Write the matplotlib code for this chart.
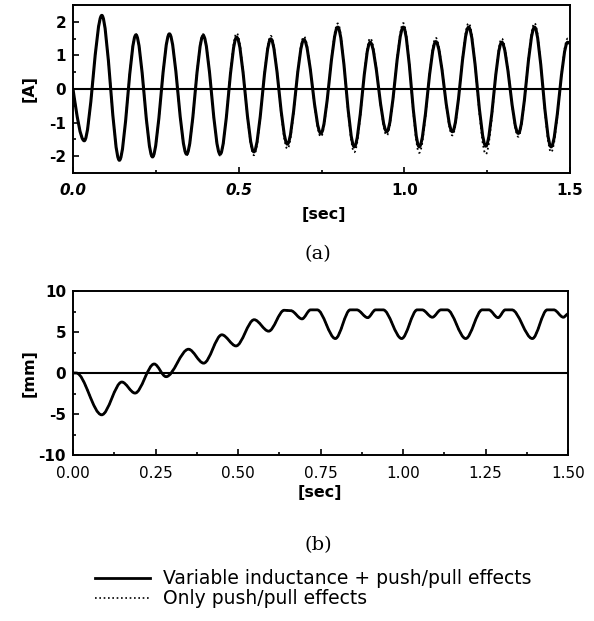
import matplotlib
matplotlib.use("Agg")
import matplotlib.pyplot as plt
from matplotlib.path import Path
from matplotlib.patches import PathPatch
from matplotlib.lines import Line2D
from matplotlib.ticker import MultipleLocator, FixedLocator

# ---------------- data ----------------
# (a) coil current [A]: successive extrema of the waveform
t_current = [0.0, 0.034, 0.087, 0.140, 0.190, 0.240, 0.291, 0.343, 0.393, 0.444,
             0.494, 0.546, 0.597, 0.647, 0.697, 0.748, 0.799, 0.849, 0.897, 0.947,
             0.997, 1.045, 1.095, 1.145, 1.194, 1.246, 1.294, 1.344, 1.393, 1.443,
             1.493, 1.500]
i_variable = [0.0, -1.54, 2.19, -2.12, 1.61, -2.02, 1.64, -1.94, 1.59, -1.94,
              1.54, -1.87, 1.49, -1.64, 1.47, -1.32, 1.84, -1.72, 1.39, -1.27,
              1.84, -1.72, 1.41, -1.27, 1.84, -1.70, 1.39, -1.32, 1.84, -1.72,
              1.39, 1.36]
i_pushpull = [0.0, -1.54, 2.19, -2.12, 1.63, -2.04, 1.66, -1.97, 1.63, -1.98,
              1.66, -1.97, 1.58, -1.78, 1.56, -1.42, 1.95, -1.88, 1.51, -1.38,
              1.96, -1.90, 1.52, -1.38, 1.96, -1.94, 1.50, -1.42, 1.96, -1.88,
              1.50, 1.46]

# (b) displacement [mm]: successive turning points of the response
t_disp = [0.0, 0.010, 0.087, 0.148, 0.188, 0.246, 0.282, 0.350, 0.396, 0.451,
          0.494, 0.549, 0.593, 0.640, 0.660, 0.694, 0.720, 0.740, 0.795, 0.840,
          0.860, 0.893, 0.917, 0.940, 0.996, 1.043, 1.058, 1.089, 1.115, 1.134,
          1.190, 1.240, 1.260, 1.288, 1.310, 1.330, 1.392, 1.437, 1.457, 1.486,
          1.500]
x_variable = [0.0, 0.0, -5.1, -1.1, -2.45, 1.1, -0.45, 2.9, 1.2, 4.66,
              3.3, 6.5, 5.1, 7.65, 7.6, 6.6, 7.7, 7.7, 4.2, 7.7,
              7.7, 6.75, 7.7, 7.7, 4.2, 7.7, 7.7, 6.8, 7.7, 7.7,
              4.2, 7.7, 7.7, 6.75, 7.7, 7.7, 4.2, 7.7, 7.7, 6.8,
              7.2]
x_pushpull = list(x_variable)

legend_labels = ["Variable inductance + push/pull effects", "Only push/pull effects"]
top_xticks = [0.0, 0.5, 1.0, 1.5]
top_xticklabels = ["0.0", "0.5", "1.0", "1.5"]
top_yticks = [-2, -1, 0, 1, 2]
bot_xticks = [0.0, 0.25, 0.5, 0.75, 1.0, 1.25, 1.5]
bot_xticklabels = ["0.00", "0.25", "0.50", "0.75", "1.00", "1.25", "1.50"]
bot_yticks = [-10, -5, 0, 5, 10]

# ---------------- drawing ----------------
SANS = ["DejaVu Sans"]
SERIF = ["DejaVu Serif"]
plt.rcParams["font.family"] = SANS

W, H = 594, 621
fig = plt.figure(figsize=(W / 100, H / 100), dpi=100)


def ax_rect(l, t, r, b):
    return [l / W, 1 - b / H, (r - l) / W, (b - t) / H]


def smooth_path(ts, vs, steep_start=False):
    verts = [(ts[0], vs[0])]
    codes = [Path.MOVETO]
    for k in range(len(ts) - 1):
        t0, v0, t1, v1 = ts[k], vs[k], ts[k + 1], vs[k + 1]
        dt = t1 - t0
        c1 = (t0 + dt / 3, v0 + (v1 - v0) * 0.5) if (steep_start and k == 0) else (t0 + dt / 3, v0)
        verts += [c1, (t1 - dt / 3, v1), (t1, v1)]
        codes += [Path.CURVE4] * 3
    return Path(verts, codes)


def style_axes(ax):
    for s in ax.spines.values():
        s.set_linewidth(1.4)
    ax.tick_params(which="both", direction="in", top=False, right=False,
                   width=1.2, labelsize=11, pad=5)
    ax.tick_params(which="major", length=4)
    ax.tick_params(which="minor", length=2.5)
    ax.axhline(0, color="black", lw=1.5, zorder=1)


# top panel
ax1 = fig.add_axes(ax_rect(73, 5, 570, 173))
ax1.add_patch(PathPatch(smooth_path(t_current, i_pushpull, True), fill=False,
                        ec="black", lw=1.3, ls=(0, (1, 1.6)), zorder=2))
ax1.add_patch(PathPatch(smooth_path(t_current, i_variable, True), fill=False,
                        ec="black", lw=2.2, zorder=3))
ax1.set_xlim(0, 1.5)
ax1.set_ylim(-2.5, 2.5)
ax1.xaxis.set_major_locator(FixedLocator(top_xticks))
ax1.set_xticklabels(top_xticklabels, fontweight="bold")
for lab in ax1.get_xticklabels()[:2]:
    lab.set_fontstyle("italic")
ax1.xaxis.set_minor_locator(MultipleLocator(0.25))
ax1.yaxis.set_major_locator(FixedLocator(top_yticks))
ax1.set_yticklabels([str(v) for v in top_yticks], fontweight="bold")
ax1.yaxis.set_minor_locator(MultipleLocator(0.5))
style_axes(ax1)
ax1.tick_params(axis="x", pad=7)
ax1.set_ylabel("[A]", fontsize=11.5, fontweight="bold")
ax1.yaxis.set_label_coords((37 - 73) / 497, 0.5)

# bottom panel
ax2 = fig.add_axes(ax_rect(73, 291, 568, 455))
ax2.add_patch(PathPatch(smooth_path(t_disp, x_pushpull), fill=False,
                        ec="black", lw=1.3, ls=(0, (1, 1.6)), zorder=2))
ax2.add_patch(PathPatch(smooth_path(t_disp, x_variable), fill=False,
                        ec="black", lw=2.0, zorder=3))
ax2.set_xlim(0, 1.5)
ax2.set_ylim(-10, 10)
ax2.xaxis.set_major_locator(FixedLocator(bot_xticks))
ax2.set_xticklabels(bot_xticklabels)
ax2.xaxis.set_minor_locator(MultipleLocator(0.125))
ax2.yaxis.set_major_locator(FixedLocator(bot_yticks))
ax2.set_yticklabels([str(v) for v in bot_yticks], fontweight="bold")
ax2.yaxis.set_minor_locator(MultipleLocator(2.5))
style_axes(ax2)
ax2.tick_params(axis="x", pad=8)
ax2.set_ylabel("[mm]", fontsize=11.5, fontweight="bold")
ax2.yaxis.set_label_coords((37 - 73) / 495, 0.5)


def fx(x):
    return x / W


def fy(y):
    return 1 - y / H


fig.text(fx(324), fy(214), "[sec]", ha="center", va="center", fontsize=11.5, fontweight="bold")
fig.text(fx(320), fy(492), "[sec]", ha="center", va="center", fontsize=11.5, fontweight="bold")
fig.text(fx(318), fy(254), "(a)", ha="center", va="center", fontsize=14, family=SERIF)
fig.text(fx(318), fy(545), "(b)", ha="center", va="center", fontsize=14, family=SERIF)

# legend
fig.add_artist(Line2D([fx(95), fx(150)], [fy(578), fy(578)], color="black", lw=2.0,
                      transform=fig.transFigure))
fig.add_artist(Line2D([fx(95), fx(150)], [fy(598), fy(598)], color="black", lw=1.2,
                      ls=(0, (1, 1.6)), transform=fig.transFigure))
fig.text(fx(163), fy(578), legend_labels[0], ha="left", va="center", fontsize=13.5)
fig.text(fx(163), fy(598), legend_labels[1], ha="left", va="center", fontsize=13.5)

fig.savefig("out.png", dpi=100)
